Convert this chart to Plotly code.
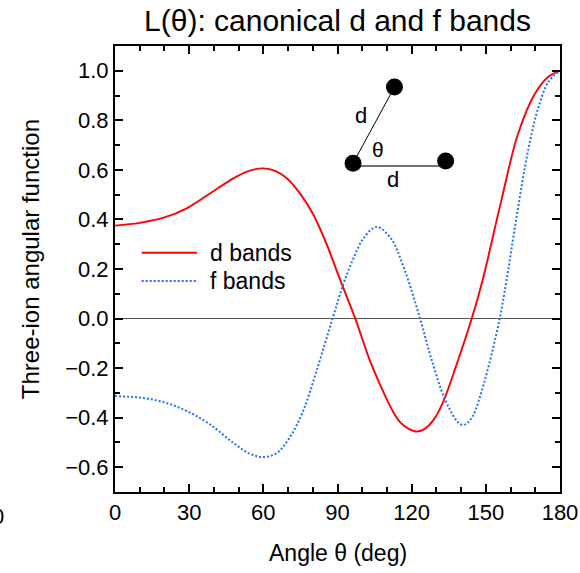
import plotly.graph_objects as go

# Three-ion angular function L(theta), canonical d bands
d_theta = [0, 10, 20, 29, 38.4, 47.9, 54, 60, 65, 69.5, 74.8, 80.2, 85.6, 91, 97.2,
           103.2, 109.9, 112.6, 115.3, 118.8, 122, 125.3, 128.8, 132.8, 138.2, 144.3,
           148.7, 156.2, 163, 169.9, 175.3, 180]
d_vals = [0.375, 0.386, 0.408, 0.445, 0.505, 0.566, 0.595, 0.606, 0.595, 0.566, 0.505,
          0.42, 0.30, 0.158, 0.0, -0.172, -0.325, -0.378, -0.418, -0.445, -0.456,
          -0.445, -0.41, -0.335, -0.185, 0.0, 0.155, 0.474, 0.745, 0.908, 0.976, 1.0]

# Canonical f bands
f_theta = [0, 10, 19.6, 29, 38.4, 47.9, 54.6, 60, 65.4, 70.8, 76.2, 81.6, 88, 92.4,
           96.5, 100.6, 105.8, 111.5, 116.9, 123.4, 127.8, 133.2, 137.3, 139.2, 140.7,
           142.4, 144.7, 149.5, 155.6, 158.3, 161.7, 165.8, 168.5, 171.3, 175.3, 180]
f_vals = [-0.313, -0.319, -0.337, -0.373, -0.427, -0.502, -0.546, -0.559, -0.543,
          -0.478, -0.371, -0.209, 0.0, 0.14, 0.244, 0.325, 0.37, 0.325, 0.203, 0.0,
          -0.157, -0.32, -0.40, -0.423, -0.43, -0.422, -0.394, -0.252, 0.0, 0.15,
          0.365, 0.61, 0.745, 0.854, 0.955, 1.0]

series_names = ["d bands", "f bands"]
x_ticks = [0, 30, 60, 90, 120, 150, 180]

FONT = "Liberation Sans, Arial, Helvetica, sans-serif"
RED = "#ff0000"
BLUE = "#2270ff"

fig = go.Figure()
fig.add_trace(go.Scatter(x=d_theta, y=d_vals, mode="lines", name=series_names[0],
                         line=dict(color=RED, width=1.9, shape="spline"),
                         showlegend=False))
fig.add_trace(go.Scatter(x=f_theta, y=f_vals, mode="lines", name=series_names[1],
                         line=dict(color=BLUE, width=2, shape="spline", dash="2px,2px"),
                         showlegend=False))

axis_common = dict(
    showline=True, linecolor="black", linewidth=2, mirror="ticks",
    ticks="inside", ticklen=8, tickwidth=2, tickcolor="black",
    showgrid=False, automargin=False,
    tickfont=dict(family=FONT, size=22, color="black"),
)

fig.update_xaxes(range=[0, 180], tickvals=x_ticks, zeroline=False,
                 minor=dict(ticks="inside", dtick=10, tick0=0, ticklen=5,
                            tickwidth=1.5, tickcolor="black"),
                 **axis_common)
fig.update_yaxes(range=[-0.7, 1.1], dtick=0.2, tick0=0, tickformat=".1f",
                 zeroline=True, zerolinecolor="#555555", zerolinewidth=1,
                 minor=dict(ticks="inside", dtick=0.1, tick0=0, ticklen=5,
                            tickwidth=1.5, tickcolor="black"),
                 **axis_common)

# legend drawn by hand: sample lines + labels
shapes = [
    dict(type="line", xref="paper", yref="paper", x0=0.060, x1=0.184, y0=0.5365, y1=0.5365,
         line=dict(color=RED, width=1.9)),
    dict(type="line", xref="paper", yref="paper", x0=0.060, x1=0.184, y0=0.473, y1=0.473,
         line=dict(color=BLUE, width=2, dash="2px,2px")),
]

# inset: three ions separated by d, enclosing angle theta
ion_c = (0.535, 0.737)
ion_t = (0.628, 0.908)
ion_r = (0.743, 0.742)
shapes.append(dict(type="line", xref="paper", yref="paper",
                   x0=ion_c[0], y0=ion_c[1], x1=ion_t[0], y1=ion_t[1],
                   line=dict(color="black", width=1)))
shapes.append(dict(type="line", xref="paper", yref="paper",
                   x0=ion_c[0], y0=0.731, x1=ion_r[0], y1=0.731,
                   line=dict(color="#444444", width=1.5)))
for cx, cy in (ion_c, ion_t, ion_r):
    shapes.append(dict(type="circle", xref="paper", yref="paper",
                       xsizemode="pixel", ysizemode="pixel", xanchor=cx, yanchor=cy,
                       x0=-8.5, x1=8.5, y0=-8.5, y1=8.5,
                       fillcolor="black", line=dict(color="black", width=0)))


def label(text, x, y, size, xanchor="center", angle=0, family=FONT):
    return dict(text=text, x=x, y=y, xref="paper", yref="paper",
                xanchor=xanchor, yanchor="middle", showarrow=False, textangle=angle,
                font=dict(family=family, size=size, color="black"))


annotations = [
    label(series_names[0], 0.2085, 0.5365, 23, xanchor="left"),
    label(series_names[1], 0.2085, 0.473, 23, xanchor="left"),
    label("d", 0.552, 0.844, 22),
    label("θ", 0.590, 0.767, 21),
    label("d", 0.625, 0.701, 22),
    # axis titles
    label("Angle θ (deg)", 0.5, -0.137, 23),
    label("Three-ion angular function", -0.191, 0.522, 24, angle=-90),
    label("0", -0.263, -0.054, 22),
]

fig.update_layout(
    width=580, height=573,
    margin=dict(l=115, r=20, t=46, b=81),
    plot_bgcolor="white", paper_bgcolor="white",
    title=dict(text="L(θ): canonical d and f bands", x=0.5, xref="paper",
               xanchor="center", y=1 - 20 / 573, yanchor="middle",
               font=dict(family=FONT, size=30, color="black")),
    shapes=shapes, annotations=annotations,
    showlegend=False,
)

fig.write_html("out.html")
